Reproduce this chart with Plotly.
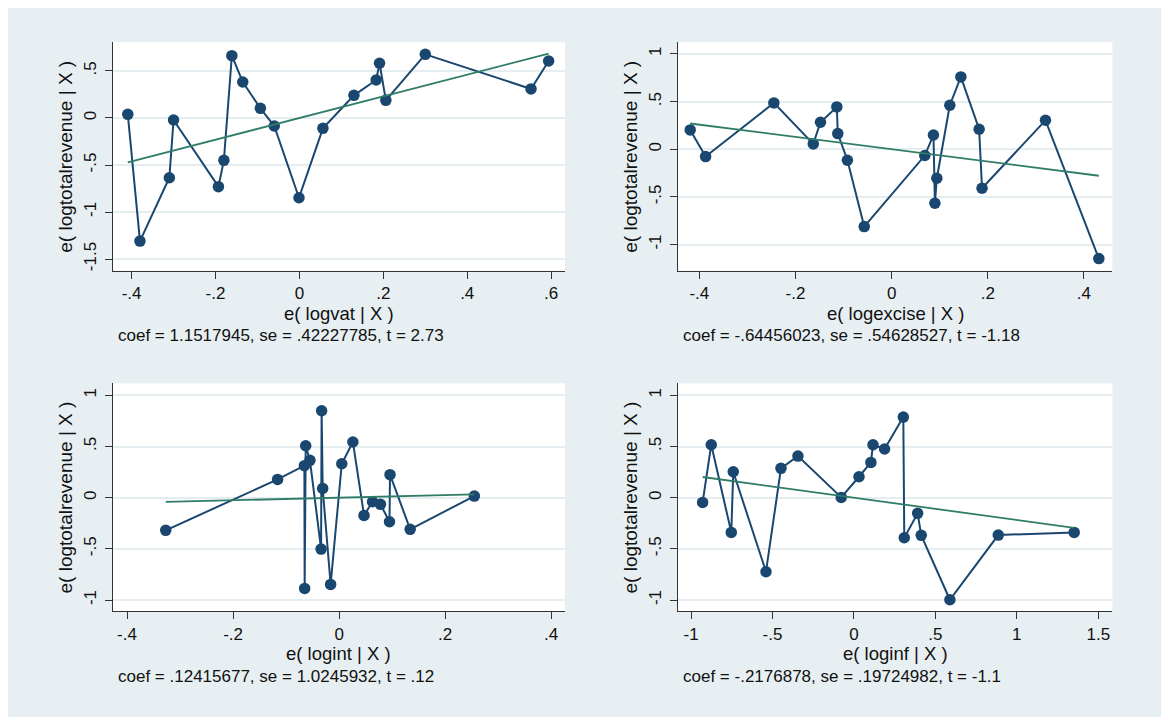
import plotly.graph_objects as go

# ---------------- data ----------------
vat_x = [-0.409, -0.380, -0.310, -0.300, -0.193, -0.180, -0.161, -0.135, -0.093, -0.060,
         -0.001, 0.056, 0.130, 0.183, 0.191, 0.206, 0.300, 0.552, 0.594]
vat_y = [0.039, -1.309, -0.635, -0.021, -0.730, -0.450, 0.663, 0.383, 0.103, -0.085,
         -0.848, -0.110, 0.241, 0.404, 0.582, 0.188, 0.677, 0.309, 0.606]

excise_x = [-0.419, -0.387, -0.245, -0.163, -0.148, -0.114, -0.112, -0.092, -0.057, 0.069,
            0.087, 0.090, 0.094, 0.121, 0.144, 0.182, 0.188, 0.320, 0.431]
excise_y = [0.203, -0.077, 0.486, 0.056, 0.283, 0.444, 0.164, -0.115, -0.811, -0.066,
            0.150, -0.566, -0.304, 0.462, 0.759, 0.210, -0.409, 0.304, -1.147]

int_x = [-0.327, -0.116, -0.0655, -0.065, -0.063, -0.055, -0.034, -0.033, -0.031, -0.016,
         0.005, 0.026, 0.047, 0.063, 0.078, 0.095, 0.096, 0.134, 0.255]
int_y = [-0.319, 0.179, 0.313, -0.886, 0.508, 0.365, -0.502, 0.850, 0.091, -0.847,
         0.332, 0.544, -0.173, -0.039, -0.065, -0.235, 0.225, -0.309, 0.016]

inf_x = [-0.929, -0.876, -0.753, -0.741, -0.540, -0.448, -0.344, -0.078, 0.031, 0.104,
         0.117, 0.188, 0.303, 0.309, 0.391, 0.413, 0.589, 0.886, 1.352]
inf_y = [-0.046, 0.518, -0.339, 0.254, -0.723, 0.287, 0.407, 0.003, 0.205, 0.345,
         0.518, 0.476, 0.788, -0.391, -0.153, -0.368, -0.997, -0.365, -0.339]

coefs = [1.1517945, -0.64456023, 0.12415677, -0.2176878]

x_titles = ["e( logvat | X )", "e( logexcise | X )", "e( logint | X )", "e( loginf | X )"]
y_title = "e( logtotalrevenue | X )"
notes = ["coef = 1.1517945, se = .42227785, t = 2.73",
         "coef = -.64456023, se = .54628527, t = -1.18",
         "coef = .12415677, se = 1.0245932, t = .12",
         "coef = -.2176878, se = .19724982, t = -1.1"]

x_tickvals = [[-0.4, -0.2, 0, 0.2, 0.4, 0.6], [-0.4, -0.2, 0, 0.2, 0.4],
              [-0.4, -0.2, 0, 0.2, 0.4], [-1, -0.5, 0, 0.5, 1, 1.5]]
x_ticktext = [["-.4", "-.2", "0", ".2", ".4", ".6"], ["-.4", "-.2", "0", ".2", ".4"],
              ["-.4", "-.2", "0", ".2", ".4"], ["-1", "-.5", "0", ".5", "1", "1.5"]]
y_tickvals = [[-1.5, -1, -0.5, 0, 0.5], [-1, -0.5, 0, 0.5, 1],
              [-1, -0.5, 0, 0.5, 1], [-1, -0.5, 0, 0.5, 1]]
y_ticktext = [["-1.5", "-1", "-.5", "0", ".5"], ["-1", "-.5", "0", ".5", "1"],
              ["-1", "-.5", "0", ".5", "1"], ["-1", "-.5", "0", ".5", "1"]]

# ---------------- layout geometry ----------------
# the page body adds an 8px offset, so figure coords = page coords - 8
W, H = 1161, 711
OFF = 8
x_ranges = [[-0.445, 0.633], [-0.445, 0.459], [-0.427, 0.426], [-1.082, 1.586]]
y_ranges = [[-1.624, 0.805], [-1.274, 1.122], [-1.110, 1.118], [-1.110, 1.118]]
px_left = [112.7 - OFF, 677.7 - OFF, 112.7 - OFF, 677.7 - OFF]
px_right = [565.0 - OFF, 1112.3 - OFF, 565.0 - OFF, 1112.3 - OFF]
px_top = [42.3 - OFF, 42.3 - OFF, 383.3 - OFF, 383.3 - OFF]
px_bot = [270.7 - OFF, 270.7 - OFF, 611.3 - OFF, 611.3 - OFF]

NAVY = "#1a476f"
GREEN = "#2f7d67"
BG = "#e8eff2"
FONT = "Liberation Sans, Arial, sans-serif"

xs = [vat_x, excise_x, int_x, inf_x]
ys = [vat_y, excise_y, int_y, inf_y]

fig = go.Figure()
annotations = []
for i in range(4):
    suffix = "" if i == 0 else str(i + 1)
    xa, ya = "x" + suffix, "y" + suffix
    fig.add_trace(go.Scatter(x=xs[i], y=ys[i], mode="lines+markers", xaxis=xa, yaxis=ya,
                             line=dict(color=NAVY, width=2),
                             marker=dict(color=NAVY, size=11.5), showlegend=False,
                             hoverinfo="x+y"))
    x0, x1 = min(xs[i]), max(xs[i])
    fig.add_trace(go.Scatter(x=[x0, x1], y=[coefs[i] * x0, coefs[i] * x1], mode="lines",
                             xaxis=xa, yaxis=ya, line=dict(color=GREEN, width=1.8),
                             showlegend=False, hoverinfo="skip"))

    axis_common = dict(showline=True, linecolor="#333333", linewidth=1.3, ticks="outside",
                       ticklen=7, tickwidth=1.2, tickcolor="#333333", zeroline=False,
                       tickfont=dict(family=FONT, size=17, color="#111111"))
    fig.layout["xaxis" + suffix] = dict(
        domain=[px_left[i] / W, px_right[i] / W], range=x_ranges[i],
        anchor=ya, showgrid=False, tickmode="array", tickvals=x_tickvals[i],
        ticktext=x_ticktext[i], ticklabelstandoff=0, **axis_common)
    fig.layout["yaxis" + suffix] = dict(
        domain=[1 - px_bot[i] / H, 1 - px_top[i] / H], range=y_ranges[i],
        anchor=xa, showgrid=True, gridcolor="#e4edf0", gridwidth=1.6,
        tickmode="array", tickvals=y_tickvals[i], ticktext=y_ticktext[i],
        tickangle=-90, ticklabelstandoff=2, **axis_common)

    cx = (px_left[i] + px_right[i]) / 2
    cy = (px_top[i] + px_bot[i]) / 2
    # x-axis title
    annotations.append(dict(text=x_titles[i], xref="paper", yref="paper",
                            x=cx / W, y=1 - (px_bot[i] + 42.5) / H,
                            xanchor="center", yanchor="middle", showarrow=False,
                            font=dict(family=FONT, size=18.5, color="#111111")))
    # y-axis title
    annotations.append(dict(text=y_title, xref="paper", yref="paper",
                            x=(px_left[i] - 47.5) / W, y=1 - cy / H, textangle=-90,
                            xanchor="center", yanchor="middle", showarrow=False,
                            font=dict(family=FONT, size=19, color="#111111")))
    # note
    annotations.append(dict(text=notes[i], xref="paper", yref="paper",
                            x=(px_left[i] + 3.5) / W, y=1 - (px_bot[i] + 65) / H,
                            xanchor="left", yanchor="middle", showarrow=False,
                            font=dict(family=FONT, size=17, color="#111111")))

fig.update_layout(
    width=W, height=H, margin=dict(l=0, r=0, t=0, b=0),
    paper_bgcolor=BG, plot_bgcolor="white",
    annotations=annotations,
    font=dict(family=FONT),
)

fig.write_html("out.html")
